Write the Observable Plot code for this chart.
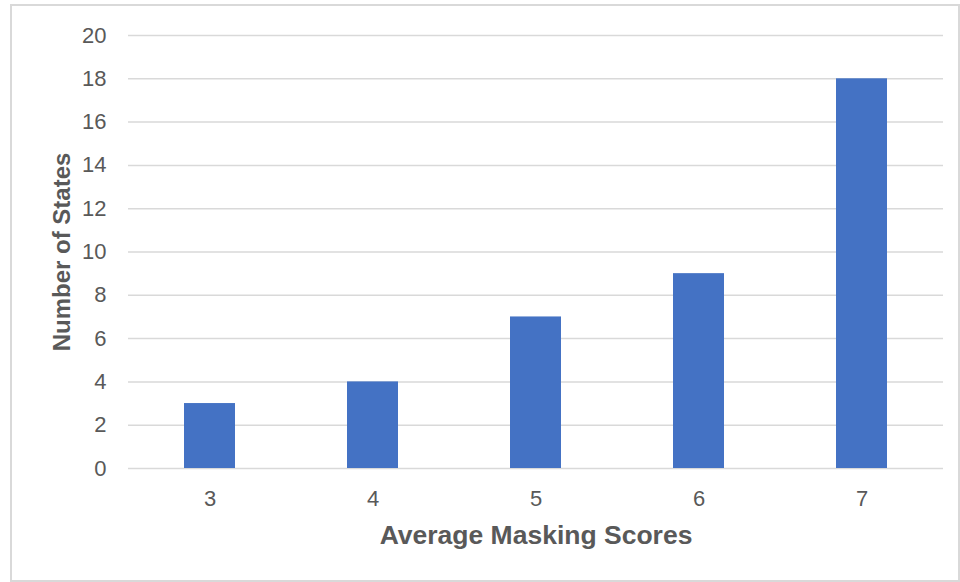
<!DOCTYPE html>
<html>
<head>
<meta charset="utf-8">
<script src="https://cdn.jsdelivr.net/npm/d3@7"></script>
<script src="https://cdn.jsdelivr.net/npm/@observablehq/plot@0.6"></script>
<style>
  html, body { margin: 0; padding: 0; background: #fff; }
  #wrap { position: relative; width: 960px; height: 582px; }
  #frame { position: absolute; left: 10px; top: 4px; width: 946px; height: 574px; border: 2px solid #d9d9d9; box-sizing: content-box; pointer-events: none; }
  #chart { position: absolute; left: 0; top: 0; }
</style>
</head>
<body>
<div id="wrap"><div id="frame"></div><div id="chart"></div></div>
<script>
const scores = [3, 4, 5, 6, 7];
const states = [3, 4, 7, 9, 18];
const yTicks = [0, 2, 4, 6, 8, 10, 12, 14, 16, 18, 20];
const xTitle = "Average Masking Scores";
const yTitle = "Number of States";

const data = scores.map((s, i) => ({score: s, count: states[i]}));
const grey = "#595959";
const font = "'Liberation Sans', Arial, sans-serif";

const chart = Plot.plot({
  width: 960,
  height: 582,
  marginLeft: 128,
  marginRight: 17,
  marginTop: 35,
  marginBottom: 114,
  style: {fontFamily: font, fontSize: "22px", background: "transparent"},
  x: {domain: scores, paddingInner: 0.687, paddingOuter: 0.3435, label: null, axis: null},
  y: {domain: [0, 20], label: null, axis: null},
  marks: [
    Plot.gridY(yTicks, {stroke: "#d9d9d9", strokeOpacity: 1, strokeWidth: 1.5}),
    Plot.barY(data, {x: "score", y: "count", fill: "#4472C4"}),
    Plot.text(yTicks, {y: d => d, text: d => String(d), frameAnchor: "left", dx: -22, textAnchor: "end", fontSize: 22, fill: grey}),
    Plot.text(scores, {x: d => d, text: d => String(d), frameAnchor: "bottom", dy: 30, lineAnchor: "middle", fontSize: 22, fill: grey}),
    Plot.text([xTitle], {frameAnchor: "bottom", dy: 67, lineAnchor: "middle", textAnchor: "middle", fontSize: 26.5, fontWeight: "bold", fill: grey}),
    Plot.text([yTitle], {frameAnchor: "left", dx: -66, rotate: -90, lineAnchor: "middle", textAnchor: "middle", fontSize: 24, fontWeight: "bold", fill: grey})
  ]
});
document.getElementById("chart").appendChild(chart);
</script>
</body>
</html>
